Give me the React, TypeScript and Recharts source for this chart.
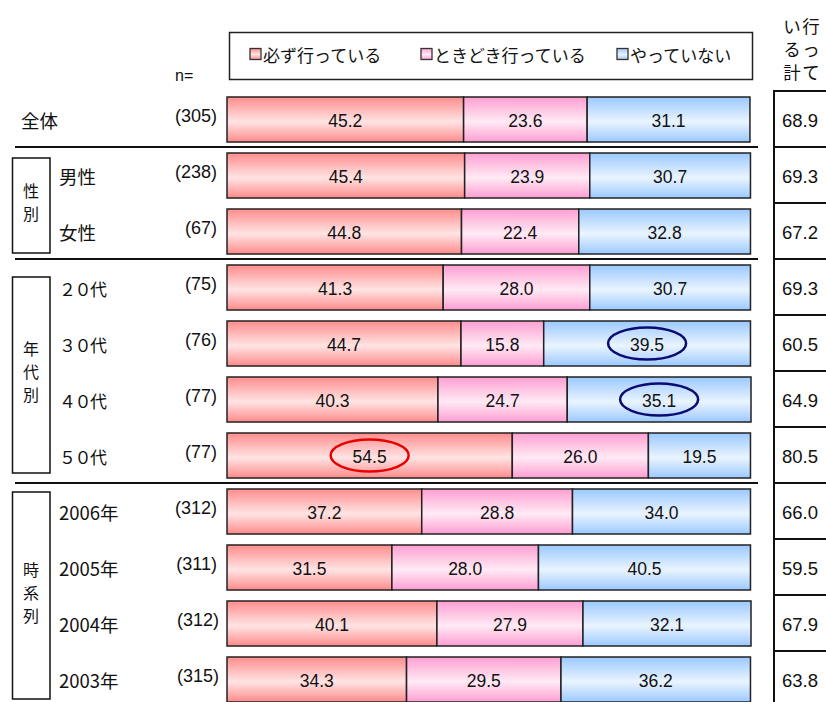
import React from 'react';
import { BarChart, Bar, XAxis, YAxis } from 'recharts';

// ---------- data ----------
const categories = ['全体', '男性', '女性', '２０代', '３０代', '４０代', '５０代', '2006年', '2005年', '2004年', '2003年'];
const sampleSizes = ['(305)', '(238)', '(67)', '(75)', '(76)', '(77)', '(77)', '(312)', '(311)', '(312)', '(315)'];
const alwaysGo = [45.2, 45.4, 44.8, 41.3, 44.7, 40.3, 54.5, 37.2, 31.5, 40.1, 34.3];
const sometimesGo = [23.6, 23.9, 22.4, 28.0, 15.8, 24.7, 26.0, 28.8, 28.0, 27.9, 29.5];
const notGo = [31.1, 30.7, 32.8, 30.7, 39.5, 35.1, 19.5, 34.0, 40.5, 32.1, 36.2];
const goTotal = [68.9, 69.3, 67.2, 69.3, 60.5, 64.9, 80.5, 66.0, 59.5, 67.9, 63.8];
const seriesNames = ['必ず行っている', 'ときどき行っている', 'やっていない'];
const seriesKeys = ['always', 'sometimes', 'never'];
const totalHeader = ['行って', 'いる計'];
const groups = [
  { label: '性別', first: 1, count: 2 },
  { label: '年代別', first: 3, count: 4 },
  { label: '時系列', first: 7, count: 4 },
];
const highlights = [
  { cat: '３０代', key: 'never', color: '#0b0b74' },
  { cat: '４０代', key: 'never', color: '#0b0b74' },
  { cat: '５０代', key: 'always', color: '#e80000' },
];

const rows = categories.map((cat, i) => ({
  cat,
  always: alwaysGo[i],
  sometimes: sometimesGo[i],
  never: notGo[i],
}));

// ---------- style ----------
const JP = '"Noto Sans CJK JP", "Noto Sans", sans-serif';
const NUM = '"Liberation Sans", Arial, sans-serif';
const BAND = 56;
const gradIds = ['gRed', 'gPink', 'gBlue'];
const gradColors = [
  ['#ff8c8c', '#ffe4e4', '#ff8a8a'],
  ['#ff9fd2', '#ffeaf5', '#ff9ed2'],
  ['#9bc9ff', '#eaf4ff', '#9bc9ff'],
];
const groupInsets = [
  [11, 6],
  [18, 10],
  [9, 8],
];

const makeShape = (key: string, grad: string) => (props: any) => {
  const { x, y, width, height, payload } = props;
  const v = payload[key];
  const hl = highlights.find((h) => h.cat === payload.cat && h.key === key);
  const cx = x + width / 2;
  const cy = y + height / 2;
  return (
    <g>
      <rect x={x} y={y} width={width} height={height} fill={`url(#${grad})`} stroke="#222" strokeWidth={1.5} />
      {hl && <ellipse cx={cx} cy={cy} rx={39} ry={16} fill="none" stroke={hl.color} strokeWidth={2.5} />}
      <text x={cx} y={cy + 1} textAnchor="middle" dominantBaseline="central" fontSize={17.5} fontFamily={NUM} fill="#111">
        {v.toFixed(1)}
      </text>
    </g>
  );
};

const RowTick = (props: any) => {
  const { y, payload } = props;
  const i = categories.indexOf(payload.value);
  if (i < 0) return null;
  const top = y - BAND / 2;
  const bottom = y + BAND / 2;
  const gi = groups.findIndex((g) => i >= g.first && i < g.first + g.count);
  const startGroup = groups.findIndex((g) => g.first === i);
  let groupEls: any = null;
  if (startGroup >= 0) {
    const g = groups[startGroup];
    const [it, ib] = groupInsets[startGroup];
    const bTop = top + it;
    const bH = g.count * BAND - it - ib;
    const chars = g.label.split('');
    const mid = bTop + bH / 2 - 4;
    groupEls = (
      <g>
        <line x1={15} x2={758} y1={top} y2={top} stroke="#111" strokeWidth={2} />
        <rect x={12.5} y={bTop} width={37.5} height={bH} fill="#fff" stroke="#111" strokeWidth={1.5} />
        {chars.map((c, k) => (
          <text key={k} x={31} y={mid + (k - (chars.length - 1) / 2) * 23} textAnchor="middle" dominantBaseline="central" fontSize={16} fontFamily={JP} fill="#111">
            {c}
          </text>
        ))}
      </g>
    );
  }
  const isAge = gi === 1;
  return (
    <g>
      {groupEls}
      <text
        x={gi >= 0 ? 59 : 21}
        y={y + 1}
        dominantBaseline="central"
        fontSize={isAge ? 17 : 18.5}
        letterSpacing={isAge ? -1.5 : 0}
        fontFamily={JP}
        fill="#111"
      >
        {categories[i]}
      </text>
      <text x={i >= 9 ? 219 : 217} y={y - 3} textAnchor="end" dominantBaseline="central" fontSize={18} fontFamily={NUM} fill="#111">
        {sampleSizes[i]}
      </text>
      {/* right-hand total table */}
      <line x1={774} x2={774} y1={top} y2={bottom} stroke="#111" strokeWidth={2} />
      {i === 0 && <line x1={773} x2={826} y1={top} y2={top} stroke="#111" strokeWidth={2} />}
      <line x1={773} x2={826} y1={bottom} y2={bottom} stroke="#111" strokeWidth={2} />
      <text x={782} y={y + 1} dominantBaseline="central" fontSize={18.5} fontFamily={NUM} fill="#111">
        {goTotal[i].toFixed(1)}
      </text>
    </g>
  );
};

const legendIconX = [250, 421, 617];

export default function App() {
  return (
    <div style={{ position: 'absolute', left: 0, top: 0, width: 826, height: 710, background: '#fff' }}>
      <svg width={826} height={90} style={{ position: 'absolute', left: 0, top: 0 }}>
        <defs>
          {gradIds.map((id, k) => (
            <linearGradient key={id} id={id} x1="0" y1="0" x2="0" y2="1">
              <stop offset="0%" stopColor={gradColors[k][0]} />
              <stop offset="55%" stopColor={gradColors[k][1]} />
              <stop offset="100%" stopColor={gradColors[k][2]} />
            </linearGradient>
          ))}
        </defs>
        <rect x={229.5} y={32.5} width={523} height={47} fill="#fff" stroke="#222" strokeWidth={1.5} />
        {seriesNames.map((name, k) => (
          <g key={name}>
            <rect x={legendIconX[k]} y={48.5} width={11} height={11} fill={`url(#${gradIds[k]})`} stroke="#333" strokeWidth={1.3} />
            <text x={legendIconX[k] + 13} y={54} dominantBaseline="central" fontSize={17} fontFamily={JP} fill="#111">
              {name}
            </text>
          </g>
        ))}
        <text x={175} y={75} dominantBaseline="central" fontSize={16} fontFamily={NUM} fill="#111">n=</text>
        {totalHeader.map((col, c) =>
          col.split('').map((ch, r) => (
            <text key={`${c}-${r}`} x={c === 0 ? 811 : 792} y={25 + r * 23} textAnchor="middle" dominantBaseline="central" fontSize={17.5} fontFamily={JP} fill="#111">
              {ch}
            </text>
          ))
        )}
      </svg>
      <div style={{ position: 'absolute', left: 0, top: 0 }}>
        <BarChart
          width={826}
          height={710}
          data={rows}
          layout="vertical"
          margin={{ top: 91, right: 75, bottom: 3, left: 0 }}
          barSize={45}
        >
          <XAxis type="number" domain={[0, 100]} hide />
          <YAxis
            type="category"
            dataKey="cat"
            width={227}
            axisLine={false}
            tickLine={false}
            interval={0}
            tick={<RowTick />}
          />
          {seriesKeys.map((key, k) => (
            <Bar
              key={key}
              dataKey={key}
              name={seriesNames[k]}
              stackId="s"
              isAnimationActive={false}
              shape={makeShape(key, gradIds[k])}
            />
          ))}
        </BarChart>
      </div>
    </div>
  );
}
